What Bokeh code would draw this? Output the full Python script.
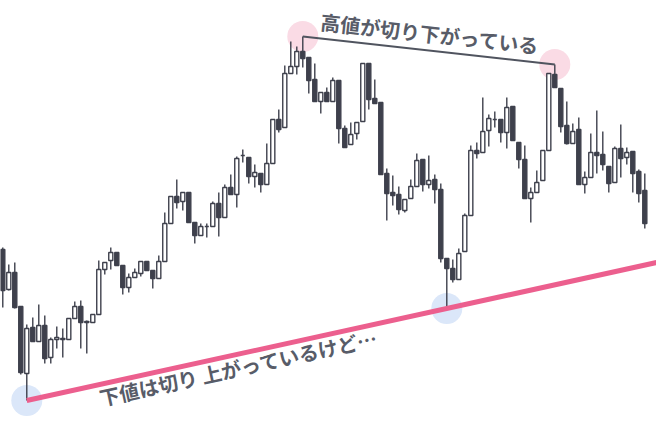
import math

from bokeh.core.properties import value
from bokeh.embed import file_html
from bokeh.models import ColumnDataSource, Range1d
from bokeh.plotting import figure
from bokeh.resources import INLINE

# candle data (price units are arbitrary)
opens = [183, 143, 160, 126, 59, 105, 91, 107, 75, 93,
         93, 93, 114, 126, 111, 110, 118, 163, 172, 180,
         167, 145, 155, 159, 171, 162, 154, 171, 209, 236,
         231, 240, 210, 197, 206, 206, 229, 215, 245, 238,
         277, 275, 256, 259, 248, 269, 313, 305, 359, 366,
         381, 375, 353, 331, 340, 331, 352, 304, 288, 299,
         311, 369, 334, 330, 259, 240, 238, 222, 234, 246,
         273, 248, 253, 243, 174, 164, 153, 181, 217, 282,
         280, 302, 313, 313, 300, 326, 290, 273, 234, 240,
         252, 282, 358, 344, 307, 289, 303, 248, 255, 280,
         278, 266, 250, 284, 275, 281, 261, 242]
highs = [185, 168, 170, 126, 108, 115, 128, 117, 95, 106,
         104, 114, 131, 132, 112, 118, 172, 170, 185, 180,
         167, 159, 164, 171, 171, 162, 177, 220, 236, 253,
         240, 240, 210, 209, 209, 231, 240, 248, 258, 276,
         283, 275, 268, 259, 289, 313, 323, 367, 391, 386,
         396, 375, 369, 340, 345, 355, 352, 307, 310, 310,
         369, 369, 353, 330, 264, 257, 246, 233, 253, 279,
         273, 277, 258, 249, 174, 173, 184, 219, 287, 290,
         335, 318, 321, 313, 335, 326, 290, 287, 245, 262,
         282, 359, 368, 344, 331, 309, 315, 261, 299, 322,
         301, 266, 286, 308, 285, 281, 263, 259]
lows = [125, 142, 124, 58, 32, 91, 91, 69, 69, 84,
        75, 93, 114, 84, 79, 110, 118, 158, 163, 167,
        138, 140, 155, 156, 162, 144, 154, 171, 209, 224,
        222, 210, 189, 197, 195, 206, 196, 215, 238, 225,
        270, 249, 245, 240, 248, 269, 300, 305, 359, 358,
        365, 339, 331, 319, 331, 331, 289, 285, 288, 293,
        311, 323, 329, 258, 212, 227, 218, 220, 234, 246,
        241, 244, 229, 170, 124, 150, 153, 181, 217, 274,
        280, 286, 305, 290, 284, 292, 264, 234, 210, 240,
        252, 282, 345, 300, 288, 289, 248, 239, 255, 259,
        262, 240, 250, 255, 268, 240, 230, 204]
closes = [142, 160, 125, 60, 104, 91, 107, 74, 93, 95,
          94, 114, 126, 110, 110, 118, 163, 170, 180, 167,
          145, 155, 160, 171, 162, 154, 171, 209, 236, 230,
          240, 210, 197, 206, 206, 229, 215, 245, 238, 274,
          277, 256, 260, 248, 269, 313, 303, 359, 366, 381,
          374, 352, 331, 340, 331, 352, 304, 285, 298, 310,
          369, 333, 329, 258, 239, 237, 223, 233, 246, 272,
          248, 252, 243, 174, 164, 153, 179, 217, 282, 279,
          301, 314, 313, 300, 325, 292, 273, 234, 240, 250,
          282, 359, 345, 306, 289, 301, 248, 255, 280, 277,
          268, 249, 284, 274, 280, 259, 239, 209]

# the two highs and the two lows that the annotations join
high_points = [50, 92]
low_points = [4, 74]
label_high = "高値が切り下がっている"
label_low = "下値は切り 上がっているけど…"

DARK = "#3e404c"
TEXT = "#585c68"
PINK = "#ec5f8e"

X_START, X_END = -0.38, 108.95
Y_START, Y_END = 0, 432
W, H = 656, 432
px_x = W / (X_END - X_START)
px_y = H / (Y_END - Y_START)

idx = list(range(len(opens)))
up = [c >= o for o, c in zip(opens, closes)]

src_up = ColumnDataSource(dict(
    x=[i for i in idx if up[i]],
    top=[closes[i] for i in idx if up[i]],
    bottom=[opens[i] for i in idx if up[i]],
))
src_down = ColumnDataSource(dict(
    x=[i for i in idx if not up[i]],
    top=[opens[i] for i in idx if not up[i]],
    bottom=[closes[i] for i in idx if not up[i]],
))

p = figure(width=W, height=H, output_backend="svg", toolbar_location=None,
           x_range=Range1d(X_START, X_END), y_range=Range1d(Y_START, Y_END),
           x_axis_type=None, y_axis_type=None, min_border=0)
p.grid.visible = False
p.outline_line_color = None
p.background_fill_color = "white"

# circles behind the candles
hx = high_points
hy = [highs[i] for i in high_points]
lx = low_points
ly = [lows[i] for i in low_points]
p.scatter(hx, hy, size=31, fill_color="#fadbe5", line_color=None)
p.scatter(lx, ly, size=31, fill_color="#dbe7f9", line_color=None)

# candles
p.segment(x0=idx, y0=lows, x1=idx, y1=highs, line_color=DARK, line_width=1.4)
p.vbar(x="x", width=0.68, top="top", bottom="bottom", source=src_up,
       fill_color="white", line_color=DARK, line_width=1.4)
p.vbar(x="x", width=0.68, top="top", bottom="bottom", source=src_down,
       fill_color=DARK, line_color=DARK, line_width=1.4)

# line of lower highs
p.line(hx, hy, line_color="#50545f", line_width=2)

# line of higher lows, carried on to the right edge
slope = (ly[1] - ly[0]) / (lx[1] - lx[0])
p.line([lx[0], X_END], [ly[0], ly[0] + slope * (X_END - lx[0])],
       line_color=PINK, line_width=5)

# labels, turned to lie along their lines
ang_high = math.atan2((hy[1] - hy[0]) * px_y, (hx[1] - hx[0]) * px_x)
ang_low = math.atan2(slope * px_y, px_x)
tx_high = (hx[0] + hx[1]) / 2 + 0.2
ty_high = (hy[0] + hy[1]) / 2 + 17
tx_low = 39.3
ty_low = ly[0] + slope * (tx_low - lx[0]) - 13.5

p.text([tx_high], [ty_high], text=[label_high], angle=ang_high,
       text_font=value("Noto Sans CJK JP"), text_font_style="bold",
       text_font_size="20px", text_color=TEXT,
       text_align="center", text_baseline="middle")
p.text([tx_low], [ty_low], text=[label_low], angle=ang_low,
       text_font=value("Noto Sans CJK JP"), text_font_style="bold",
       text_font_size="20px", text_color=TEXT,
       text_align="center", text_baseline="middle")

open("out.html", "w").write(file_html(p, INLINE))
